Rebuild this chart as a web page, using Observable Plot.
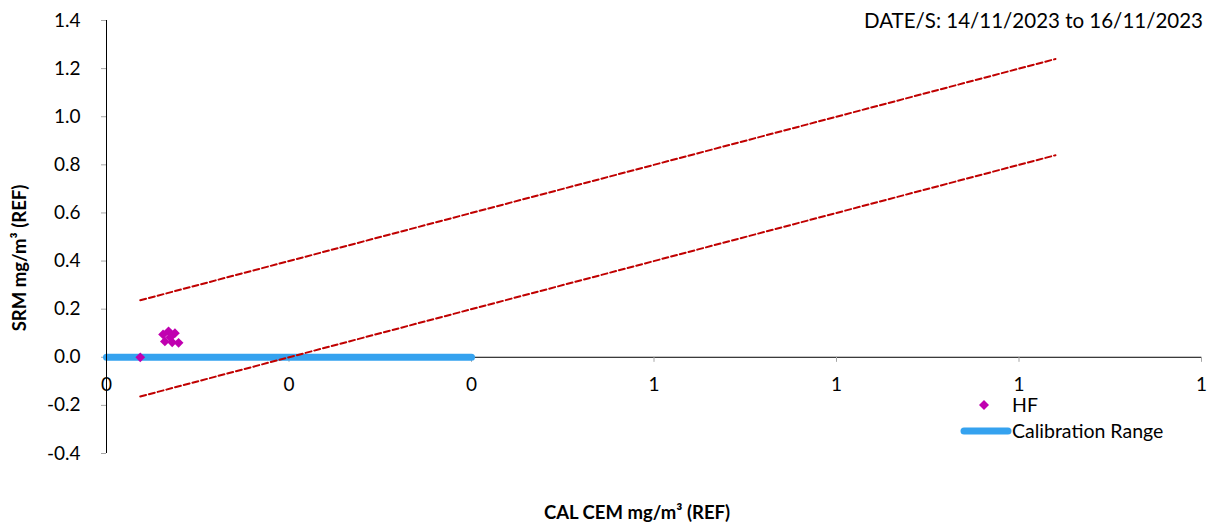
<!DOCTYPE html>
<html>
<head>
<meta charset="utf-8">
<script src="https://cdn.jsdelivr.net/npm/d3@7"></script>
<script src="https://cdn.jsdelivr.net/npm/@observablehq/plot@0.6"></script>
<style>
  html, body { margin: 0; padding: 0; background: #fff; }
  #wrap { position: relative; width: 1208px; height: 524px; font-family: Lato, "Liberation Sans", sans-serif; color: #000; }
  .ov { position: absolute; white-space: nowrap; }
</style>
</head>
<body>
<div id="wrap"></div>
<script>
// ---- data ----
const hfX = [0.037, 0.062, 0.068, 0.075, 0.064, 0.072, 0.079, 0.070];
const hfY = [0.0, 0.095, 0.108, 0.100, 0.066, 0.062, 0.060, 0.083];
const limitX = [0.037, 1.04];
const upperY = [0.237, 1.24];
const lowerY = [-0.163, 0.84];
const calX = [0, 0.4];
const calY = [0, 0];
const xTicks = [0, 0.2, 0.4, 0.6, 0.8, 1.0, 1.2];
const yTicks = [-0.4, -0.2, 0, 0.2, 0.4, 0.6, 0.8, 1.0, 1.2, 1.4];
const dateText = "DATE/S: 14/11/2023 to 16/11/2023";
const xTitle = "CAL CEM mg/m³ (REF)";
const yTitle = "SRM mg/m³ (REF)";
const seriesNames = ["HF", "Calibration Range"];

const hf = hfX.map((x, i) => ({x, y: hfY[i]}));
const upper = limitX.map((x, i) => ({x, y: upperY[i]}));
const lower = limitX.map((x, i) => ({x, y: lowerY[i]}));
const cal = calX.map((x, i) => ({x, y: calY[i]}));

const magenta = "#c000b0";
const blue = "#35a2ef";
const red = "#c00000";
const fmtY = d => (Math.abs(d) < 1e-9 ? 0 : d).toFixed(1);
const fmtX = d => Math.round(d).toString();

const plot = Plot.plot({
  width: 1208,
  height: 524,
  marginLeft: 106,
  marginRight: 7,
  marginTop: 20,
  marginBottom: 71,
  style: {fontFamily: "Lato, 'Liberation Sans', sans-serif", fontSize: "19px", background: "white", color: "black", overflow: "visible"},
  x: {domain: [0, 1.2], axis: null},
  y: {domain: [-0.4, 1.4]},
  marks: [
    Plot.axisY({ticks: yTicks, tickFormat: fmtY, tickSize: 5, tickPadding: 21, stroke: "#a6a6a6", fill: "black", label: null, fontSize: 19}),
    Plot.ruleY([0], {stroke: "black", strokeWidth: 1}),
    Plot.ruleX(xTicks, {x: d => d, y1: 0, y2: -0.021, stroke: "#a6a6a6"}),
    Plot.text(xTicks, {x: d => d, y: 0, dy: 28, text: fmtX, fontSize: 19, fill: "black"}),
    Plot.line(cal, {x: "x", y: "y", stroke: blue, strokeWidth: 7, strokeLinecap: "round"}),
    Plot.ruleX([0], {stroke: "black", strokeWidth: 1}),
    Plot.line(upper, {x: "x", y: "y", stroke: red, strokeWidth: 2, strokeDasharray: "6,3"}),
    Plot.line(lower, {x: "x", y: "y", stroke: red, strokeWidth: 2, strokeDasharray: "6,3"}),
    Plot.dot(hf, {x: "x", y: "y", symbol: "diamond2", r: 4.4, fill: magenta, stroke: "none"})
  ]
});

const wrap = document.getElementById("wrap");
wrap.appendChild(plot);

function ov(html, style) {
  const d = document.createElement("div");
  d.className = "ov";
  d.innerHTML = html;
  Object.assign(d.style, style);
  wrap.appendChild(d);
  return d;
}

// date text (top right)
ov(dateText, {right: "5px", top: "7px", fontSize: "20.5px", lineHeight: "26px"});
// x title
ov(xTitle, {left: "0", width: "1274px", textAlign: "center", top: "499px", fontSize: "18.5px", fontWeight: "bold", lineHeight: "26px"});
// y title (rotated)
ov(yTitle, {left: "19px", top: "258px", fontSize: "18.5px", fontWeight: "bold", transform: "translate(-50%, -50%) rotate(-90deg)", lineHeight: "22px"});

// legend
ov(`<svg width="30" height="16" style="display:block"><path d="M15,3 L20,8 L15,13 L10,8 Z" fill="${magenta}"/></svg>`, {left: "969px", top: "397px"});
ov(seriesNames[0], {left: "1012px", top: "392px", fontSize: "19.5px", lineHeight: "26px"});
ov(`<svg width="56" height="12" style="display:block"><line x1="6" y1="6" x2="50" y2="6" stroke="${blue}" stroke-width="7" stroke-linecap="round"/></svg>`, {left: "958px", top: "425px"});
ov(seriesNames[1], {left: "1012px", top: "418px", fontSize: "19.5px", lineHeight: "26px"});
</script>
</body>
</html>
